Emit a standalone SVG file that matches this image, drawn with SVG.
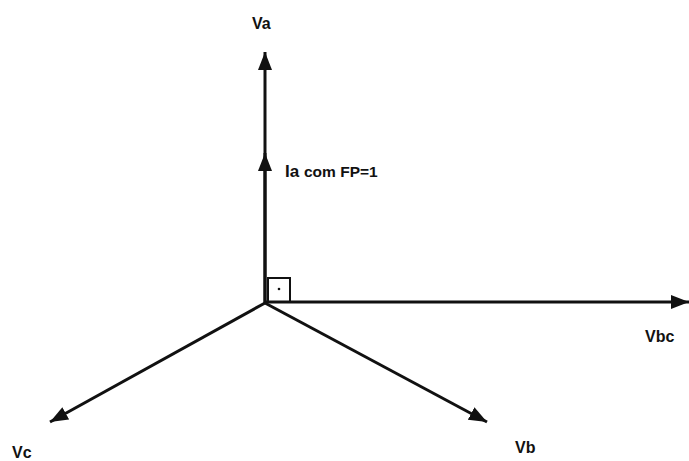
<svg xmlns="http://www.w3.org/2000/svg" width="689" height="461" viewBox="0 0 689 461">
<style>
.v{stroke:#111;stroke-width:3;fill:none}
.t{font-family:"Liberation Sans",Arial,sans-serif;font-weight:bold;fill:#111}
</style>
<defs>
<marker id="ah" markerUnits="userSpaceOnUse" markerWidth="20" markerHeight="16" refX="18" refY="7" orient="auto">
<path d="M0,0 L18,7 L0,14 Z" fill="#111"/>
</marker>
</defs>
<rect width="689" height="461" fill="#fff"/>
<g id="connectors">
<line class="v" x1="265" y1="303" x2="265" y2="52" marker-end="url(#ah)"/>
<line class="v" x1="265" y1="303" x2="265" y2="153" marker-end="url(#ah)"/>
<line class="v" x1="265" y1="302" x2="689" y2="302" marker-end="url(#ah)"/>
<line class="v" x1="265" y1="303" x2="487" y2="422" marker-end="url(#ah)"/>
<line class="v" x1="265" y1="303" x2="50" y2="422" marker-end="url(#ah)"/>
</g>
<g id="angle">
<rect x="268" y="278" width="22" height="24" fill="none" stroke="#111" stroke-width="2"/>
<circle cx="279" cy="289" r="1.3" fill="#111"/>
</g>
<g id="Va"><text class="t" x="252" y="29" font-size="16">Va</text></g>
<g id="Ia"><text class="t" x="285" y="177" font-size="17">Ia</text><text class="t" x="304" y="177" font-size="15.5">com FP=1</text></g>
<g id="Vbc"><text class="t" x="645" y="342" font-size="16">Vbc</text></g>
<g id="Vb"><text class="t" x="515" y="453" font-size="16">Vb</text></g>
<g id="Vc"><text class="t" x="12" y="458" font-size="16">Vc</text></g>
</svg>
